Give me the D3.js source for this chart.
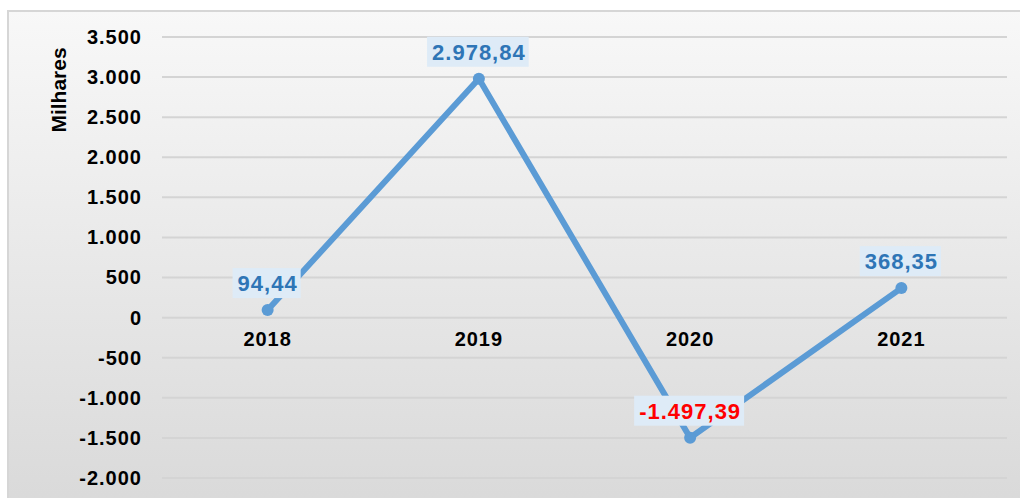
<!DOCTYPE html>
<html>
<head>
<meta charset="utf-8">
<script src="https://cdn.jsdelivr.net/npm/d3@7"></script>
<style>
  body { margin: 0; background: #fff; }
  text { font-family: "Liberation Sans", Arial, sans-serif; font-weight: bold; }
</style>
</head>
<body>
<svg id="canvas" width="1020" height="498"></svg>
<script>
let years = ["2018", "2019", "2020", "2021"]
let values = [94.44, 2978.84, -1497.39, 368.35]
let yTicks = [-2000, -1500, -1000, -500, 0, 500, 1000, 1500, 2000, 2500, 3000, 3500]

let svg = d3.select('#canvas')

let ptBR = d3.formatLocale({ decimal: ",", thousands: ".", grouping: [3], currency: ["R$", ""], minus: "-" })
let fmtTick = ptBR.format(",.0f")
let fmtVal = ptBR.format(",.2f")

// background box with gradient
let grad = svg.append('defs').append('linearGradient')
    .attr('id', 'bg').attr('x1', 0).attr('y1', 0).attr('x2', 0).attr('y2', 1)
grad.append('stop').attr('offset', '0%').attr('stop-color', '#f8f8f8')
grad.append('stop').attr('offset', '100%').attr('stop-color', '#d9d9d9')

svg.append('rect')
   .attr('x', 8).attr('y', 11).attr('width', 1020).attr('height', 500)
   .attr('fill', 'url(#bg)')
   .attr('stroke', '#d6d6d6').attr('stroke-width', 2)

let x = d3.scaleBand().domain(years).range([162, 1007])
let y = d3.scaleLinear().domain([-2000, 3500]).range([478, 37])

// gridlines
svg.append('g')
   .selectAll('line')
   .data(yTicks)
   .enter()
   .append('line')
   .attr('x1', 162).attr('x2', 1007)
   .attr('y1', d => y(d)).attr('y2', d => y(d))
   .attr('stroke', '#d4d4d4').attr('stroke-width', 2)

// y axis labels
let yAxis = d3.axisLeft(y).tickValues(yTicks).tickFormat(fmtTick).tickSize(0).tickPadding(0)
let gy = svg.append('g').attr('transform', 'translate(142,0)').call(yAxis)
gy.select('.domain').remove()
gy.selectAll('text')
  .attr('font-size', 20).attr('letter-spacing', 1)
  .attr('fill', '#000').attr('font-family', '"Liberation Sans", Arial, sans-serif')

// x axis labels below zero line
let xAxis = d3.axisBottom(x).tickSize(0).tickPadding(14)
let gx = svg.append('g').attr('transform', `translate(0,${y(0)})`).call(xAxis)
gx.select('.domain').remove()
gx.selectAll('text')
  .attr('font-size', 20).attr('letter-spacing', 1)
  .attr('fill', '#000').attr('font-family', '"Liberation Sans", Arial, sans-serif')

// axis title
svg.append('text')
   .attr('transform', 'translate(66,90) rotate(-90)')
   .attr('text-anchor', 'middle')
   .attr('font-size', 21)
   .attr('fill', '#000')
   .text('Milhares')

// line
let cx = (d, i) => x(years[i]) + x.bandwidth() / 2
let line = d3.line().x((d, i) => cx(d, i)).y(d => y(d))
svg.append('path')
   .datum(values)
   .attr('d', line)
   .attr('fill', 'none')
   .attr('stroke', '#5b9bd5')
   .attr('stroke-width', 6)
   .attr('stroke-linejoin', 'round')

svg.selectAll('circle.pt')
   .data(values)
   .enter()
   .append('circle')
   .attr('class', 'pt')
   .attr('cx', cx)
   .attr('cy', d => y(d))
   .attr('r', 6)
   .attr('fill', '#5b9bd5')

// data labels
let labels = svg.selectAll('g.lbl')
   .data(values)
   .enter()
   .append('g')
   .attr('class', 'lbl')
   .attr('transform', (d, i) => `translate(${cx(d, i)},${y(d) - 27})`)

labels.append('text')
   .attr('text-anchor', 'middle')
   .attr('dy', '0.36em')
   .attr('font-size', 22)
   .attr('letter-spacing', 1)
   .attr('fill', d => d < 0 ? '#ff0000' : '#2e75b6')
   .text(d => fmtVal(d))

labels.each(function () {
    let g = d3.select(this)
    let b = g.select('text').node().getBBox()
    g.insert('rect', 'text')
     .attr('x', b.x - 5).attr('y', -15)
     .attr('width', b.width + 8).attr('height', 30)
     .attr('fill', '#deebf7')
})
</script>
</body>
</html>
